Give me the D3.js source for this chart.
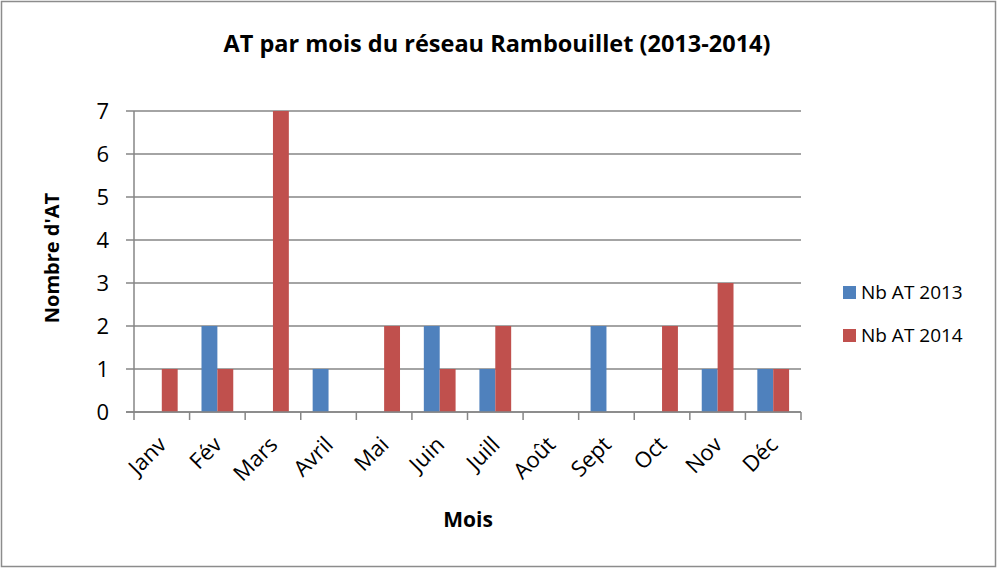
<!DOCTYPE html>
<html>
<head>
  <meta charset="UTF-8">
  <style>
    body { margin: 0; background: #fff; }
    svg { display: block; font-family: "Open Sans", "Liberation Sans", sans-serif; }
  </style>
</head>
<body>
<svg></svg>
<script src="https://d3js.org/d3.v7.min.js"></script>
<script>

let width = 998, height = 568;

// data
let mois = ["Janv", "Fév", "Mars", "Avril", "Mai", "Juin", "Juill", "Août", "Sept", "Oct", "Nov", "Déc"];
let series = ["Nb AT 2013", "Nb AT 2014"];
let at2013 = [0, 2, 0, 1, 0, 2, 1, 0, 2, 0, 1, 1];
let at2014 = [1, 1, 7, 0, 2, 1, 2, 0, 0, 2, 3, 1];
let yTicks = [0, 1, 2, 3, 4, 5, 6, 7];
let colors = ["#4F81BD", "#C0504D"];

let rows = mois.map((m, i) => ({mois: m, values: [at2013[i], at2014[i]]}));

let svg = d3.select("svg")
    .attr("width", width)
    .attr("height", height);

// outer frame
svg.append("rect")
    .attr("x", 1.5).attr("y", 1.5)
    .attr("width", width - 4).attr("height", height - 3)
    .attr("fill", "#fff")
    .attr("stroke", "#8c8c8c")
    .attr("stroke-width", 1.5);

let margin = {left: 134, right: 197, top: 111, bottom: 156};

let x = d3.scaleBand()
    .domain(mois)
    .range([margin.left, width - margin.right])
    .padding(0);

// gap width 150% like the original
let xSub = d3.scaleBand()
    .domain([0, 1])
    .range([0, x.bandwidth()])
    .paddingInner(0)
    .paddingOuter(0.75);

let y = d3.scaleLinear()
    .domain([0, 7])
    .range([height - margin.bottom, margin.top]);

// gridlines
svg.append("g")
    .selectAll("line")
    .data(yTicks)
    .enter()
        .append("line")
        .attr("x1", margin.left - 8)
        .attr("x2", width - margin.right)
        .attr("y1", d => y(d))
        .attr("y2", d => y(d))
        .attr("stroke", "#868686")
        .attr("stroke-width", 1.5);

// y labels
svg.append("g")
    .selectAll("text")
    .data(yTicks)
    .enter()
        .append("text")
        .attr("x", margin.left - 25)
        .attr("y", d => y(d))
        .attr("dy", "0.36em")
        .attr("text-anchor", "end")
        .attr("font-size", 22)
        .attr("fill", "#000")
        .text(d => d);

// bars
let groups = svg.append("g")
    .selectAll("g")
    .data(rows)
    .enter()
        .append("g")
        .attr("transform", d => "translate(" + x(d.mois) + ",0)");

groups.selectAll("rect")
    .data(d => d.values.map((v, k) => ({k: k, v: v})))
    .enter()
        .append("rect")
        .attr("x", d => xSub(d.k))
        .attr("width", xSub.bandwidth())
        .attr("y", d => y(d.v))
        .attr("height", d => y(0) - y(d.v))
        .attr("fill", d => colors[d.k]);

// axis lines
svg.append("line")
    .attr("x1", margin.left).attr("x2", margin.left)
    .attr("y1", y(7)).attr("y2", y(0))
    .attr("stroke", "#868686")
    .attr("stroke-width", 1.5);

svg.append("line")
    .attr("x1", margin.left - 8).attr("x2", width - margin.right)
    .attr("y1", y(0)).attr("y2", y(0))
    .attr("stroke", "#868686")
    .attr("stroke-width", 1.5);

// x ticks at band edges
let edges = mois.map(m => x(m)).concat([x(mois[mois.length - 1]) + x.bandwidth()]);
svg.append("g")
    .selectAll("line")
    .data(edges)
    .enter()
        .append("line")
        .attr("x1", d => d).attr("x2", d => d)
        .attr("y1", y(0)).attr("y2", y(0) + 8)
        .attr("stroke", "#868686")
        .attr("stroke-width", 1.5);

// x labels rotated
svg.append("g")
    .selectAll("text")
    .data(mois)
    .enter()
        .append("text")
        .attr("transform", d => "translate(" + (x(d) + x.bandwidth() / 2 + 6) + "," + (y(0) + 34) + ") rotate(-45)")
        .attr("text-anchor", "end")
        .attr("font-size", 22)
        .attr("fill", "#000")
        .text(d => d);

// title
svg.append("text")
    .attr("x", 497)
    .attr("y", 52)
    .attr("text-anchor", "middle")
    .attr("font-size", 23.5)
    .attr("font-weight", "bold")
    .text("AT par mois du réseau Rambouillet (2013-2014)");

// axis titles
svg.append("text")
    .attr("x", 468)
    .attr("y", 527)
    .attr("text-anchor", "middle")
    .attr("font-size", 21)
    .attr("font-weight", "bold")
    .text("Mois");

svg.append("text")
    .attr("transform", "translate(59,258) rotate(-90)")
    .attr("text-anchor", "middle")
    .attr("font-size", 20)
    .attr("font-weight", "bold")
    .text("Nombre d'AT");

// legend
let legend = svg.append("g")
    .selectAll("g")
    .data(series)
    .enter()
        .append("g")
        .attr("transform", (d, i) => "translate(843," + (292 + i * 43) + ")");

legend.append("rect")
    .attr("x", 0).attr("y", -6)
    .attr("width", 13).attr("height", 13)
    .attr("fill", (d, i) => colors[i]);

legend.append("text")
    .attr("x", 18)
    .attr("y", 0)
    .attr("dy", "0.36em")
    .attr("font-size", 19)
    .attr("fill", "#000")
    .text(d => d);

</script>
</body>
</html>
